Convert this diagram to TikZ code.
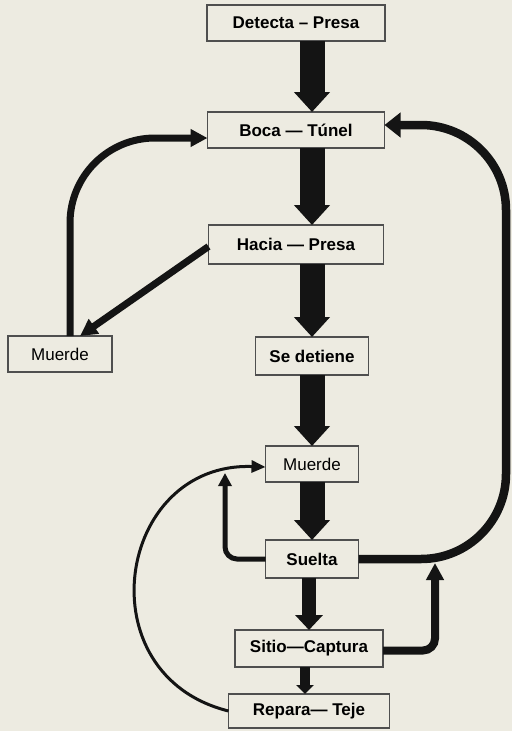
\documentclass[tikz,border=0pt]{standalone}
\usepackage{fontspec}
\setmainfont{Liberation Sans}
\usepackage{tikz}
\usetikzlibrary{positioning,shapes,arrows.meta}
\definecolor{papel}{RGB}{237,235,225}
\definecolor{tinta}{RGB}{20,20,20}

\begin{document}
\begin{tikzpicture}[x=1pt,y=-1pt,
	caja/.style={draw=tinta!75, line width=1.2pt, fill=papel, rectangle, minimum height=36pt, inner sep=2pt, outer sep=0pt, font=\fontsize{17}{20}\selectfont},
	cajab/.style={caja, font=\fontsize{17}{20}\selectfont\bfseries},
	gruesa/.style={tinta, line width=25pt, -{Triangle[width=35pt,length=20pt]}},
	media/.style={tinta, line width=14pt, -{Triangle[width=27pt,length=15pt]}},
	fina/.style={tinta, line width=10pt, -{Triangle[width=17pt,length=9pt]}},
	lazo/.style={tinta, line width=7pt, -{Triangle[width=17pt,length=17pt]}},
	hilo/.style={tinta, line width=3pt, -{Triangle[width=12pt,length=14pt]}}]
			\useasboundingbox (0,0) rectangle (512,731);
			\fill[papel] (0,0) rectangle (512,731);
			\coordinate (eje) at (312,0);
			\coordinate (ejeb) at (309,0);
			\coordinate (ejec) at (305,0);
			\coordinate (borde) at (506,0);
			\coordinate (puntaS) at (225,473);
			\coordinate (puntaC) at (435,563);

			% cadena principal
			\node[cajab, minimum width=178pt] (detecta) at (296,23) {Detecta – Presa};
			\node[cajab, minimum width=177pt, below=71pt of detecta] (boca) {Boca — Túnel};
			\node[cajab, minimum width=175pt, minimum height=39pt, below=77pt of boca] (hacia) {Hacia — Presa};
			\node[cajab, minimum width=113pt, minimum height=38pt, below=73pt of hacia, xshift=16pt] (detiene) {Se detiene};
			\node[caja, minimum width=93pt, below=71pt of detiene] (muerde) {Muerde};
			\node[cajab, minimum width=93pt, minimum height=38pt, below=58pt of muerde] (suelta) {Suelta};
			\node[cajab, minimum width=148pt, minimum height=37pt, below=52pt of suelta, xshift=-3pt] (sitio) {Sitio—Captura};
			\node[cajab, minimum width=161pt, minimum height=34pt, below=27pt of sitio] (repara) {Repara— Teje};
			\node[caja, minimum width=104pt] (muerdeizq) at (60,354) {Muerde};

			\draw[gruesa] (detecta.south -| eje) -- (boca.north -| eje);
			\draw[gruesa] (boca.south -| eje) -- (hacia.north -| eje);
			\draw[gruesa] (hacia.south -| eje) -- (detiene.north -| eje);
			\draw[gruesa] (detiene.south -| eje) -- (muerde.north -| eje);
			\draw[gruesa] (muerde.south -| eje) -- (suelta.north -| eje);
			\draw[media] (suelta.south -| ejeb) -- (sitio.north -| ejeb);
			\draw[fina] (sitio.south -| ejec) -- (repara.north -| ejec);

			% lazos
			\draw[lazo] ([yshift=-2pt]hacia.west) -- ([xshift=20pt]muerdeizq.north);
			\draw[lazo, rounded corners=85pt] ([xshift=10pt]muerdeizq.north) |- ([yshift=-8pt]boca.west);
			\draw[lazo, line width=8.5pt, -{Triangle[width=24pt,length=16pt]}, rounded corners=85pt] (suelta.east) -| ([yshift=5pt]boca.east -| borde) -- ([yshift=5pt]boca.east);
			\draw[lazo, line width=5pt, -{Triangle[width=13pt,length=13pt]}, rounded corners=12pt] (suelta.west) -| (puntaS);
			\draw[lazo, line width=8pt, -{Triangle[width=17pt,length=17pt]}, rounded corners=12pt] ([yshift=-2pt]sitio.east) -| (puntaC);
			\draw[hilo] (repara.west) to[out=166, in=178, looseness=1.55] ([yshift=-3pt]muerde.west);
		\end{tikzpicture}
\end{document}
